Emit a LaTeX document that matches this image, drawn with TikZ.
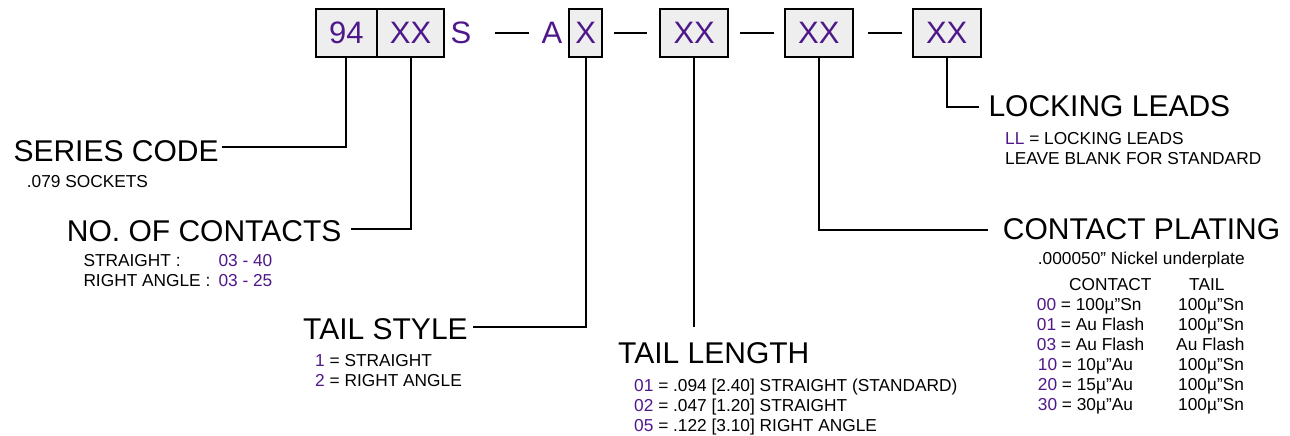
\documentclass[tikz,border=0pt]{standalone}
\usepackage{fontspec}
\setmainfont{Liberation Sans}
\definecolor{pnum}{RGB}{78,24,138}
\definecolor{boxfill}{RGB}{238,238,238}
\newcommand\pc[1]{\textcolor{pnum}{#1}}
\begin{document}
\begin{tikzpicture}[x=1pt,y=-1pt,
  pbox/.style={draw=black,line width=2pt,fill=boxfill,inner sep=0pt,text=pnum,
    font=\fontsize{31}{36}\selectfont,minimum height=48pt},
  plet/.style={inner sep=0pt,text=pnum,font=\fontsize{31}{36}\selectfont},
  title/.style={anchor=base west,inner sep=0pt,font=\fontsize{30}{36}\selectfont},
  small/.style={anchor=base west,inner sep=0pt,font=\fontsize{17.3}{20}\selectfont},
  conn/.style={line width=2pt},
  dashline/.style={line width=1.6pt}]
\useasboundingbox (0,0) rectangle (1290,436);

% part number boxes
\node[pbox,minimum width=61pt] (b94) at (346.4,33) {94};
\node[pbox,minimum width=67pt] (bxx1) at (410.5,33) {XX};
\node[plet] (ls) at (461,33) {S};
\node[plet] (la) at (552,33) {A};
\node[pbox,minimum width=33.5pt] (bx) at (585.7,33) {X};
\node[pbox,minimum width=67.7pt] (bxx3) at (694.2,33) {XX};
\node[pbox,minimum width=68pt] (bxx4) at (818.9,33) {XX};
\node[pbox,minimum width=68pt] (bxx5) at (946.7,33) {XX};

% dashes
\draw[dashline] (495,33) -- (529,33);
\draw[dashline] (614,33) -- (647,33);
\draw[dashline] (740,33) -- (774,33);
\draw[dashline] (868,33) -- (902,33);

% titles and descriptions
\node[title] (series) at (13.3,161.7) {SERIES CODE};
\node[small] (seriessub) at (26.7,187.3) {.079 SOCKETS};

\node[title] (contacts) at (66.7,241) {NO. OF CONTACTS};
\node[small] (cs1) at (83.3,266.7) {STRAIGHT :};
\node[small] (cs1v) at (218.3,266.7) {\pc{03 - 40}};
\node[small] (cs2) at (83.3,286.7) {RIGHT ANGLE :};
\node[small] (cs2v) at (218.3,286.7) {\pc{03 - 25}};

\node[title] (tailstyle) at (303,339.3) {TAIL STYLE};
\node[small] (ts1) at (315,366) {\pc{1} = STRAIGHT};
\node[small] (ts2) at (315,386) {\pc{2} = RIGHT ANGLE};

\node[title] (taillength) at (618,363.3) {TAIL LENGTH};
\node[small] (tl1) at (634,391.7) {\pc{01} = .094 [2.40] STRAIGHT (STANDARD)};
\node[small] (tl2) at (634,411.7) {\pc{02} = .047 [1.20] STRAIGHT};
\node[small] (tl3) at (634,431.7) {\pc{05} = .122 [3.10] RIGHT ANGLE};

\node[title] (locking) at (988.3,116.7) {LOCKING LEADS};
\node[small] (lk1) at (1005,144.3) {\pc{LL} = LOCKING LEADS};
\node[small] (lk2) at (1005,164.3) {LEAVE BLANK FOR STANDARD};

\node[title] (plating) at (1002.7,239.3) {CONTACT PLATING};
\node[small] (pl0) at (1037.7,264) {.000050” Nickel underplate};
\node[small] (plh1) at (1069,290) {CONTACT};
\node[small] (plh2) at (1189,290) {TAIL};
\node[small] (pr1) at (1036.7,310) {\pc{00} = 100µ”Sn};
\node[small] (pt1) at (1178,310) {100µ”Sn};
\node[small] (pr2) at (1036.7,330) {\pc{01} = Au Flash};
\node[small] (pt2) at (1178,330) {100µ”Sn};
\node[small] (pr3) at (1036.7,350) {\pc{03} = Au Flash};
\node[small] (pt3) at (1176,350) {Au Flash};
\node[small] (pr4) at (1037.7,370) {\pc{10} = 10µ”Au};
\node[small] (pt4) at (1178,370) {100µ”Sn};
\node[small] (pr5) at (1037.7,390) {\pc{20} = 15µ”Au};
\node[small] (pt5) at (1178,390) {100µ”Sn};
\node[small] (pr6) at (1037.7,410) {\pc{30} = 30µ”Au};
\node[small] (pt6) at (1178,410) {100µ”Sn};

% connector ends
\coordinate (c1) at (221.7,147);
\coordinate (c2) at (350.7,229.3);
\coordinate (c3) at (473.3,327.3);
\coordinate (c4) at (694.2,327);
\coordinate (c5) at (987.7,230);
\coordinate (c6) at (979,107.3);

\draw[conn] (b94.south) |- (c1);
\draw[conn] (bxx1.south) |- (c2);
\draw[conn] (bx.south) |- (c3);
\draw[conn] (bxx3.south) -- (c4);
\draw[conn] (bxx4.south) |- (c5);
\draw[conn] (bxx5.south) |- (c6);
\end{tikzpicture}
\end{document}
